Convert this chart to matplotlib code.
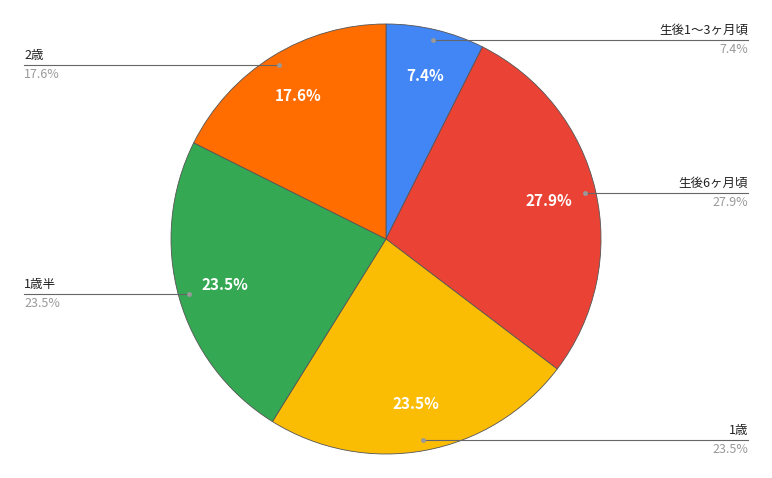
import numpy as np
import matplotlib
matplotlib.use("Agg")
import matplotlib.pyplot as plt
plt.rcParams['font.family'] = ['Noto Sans CJK JP', 'DejaVu Sans']

labels = ['生後1〜3ヶ月頃', '生後6ヶ月頃', '1歳', '1歳半', '2歳']
values = [7.4, 27.9, 23.5, 23.5, 17.6]
colors = ['#4285f4', '#ea4335', '#fbbc04', '#34a853', '#ff6d01']

W, H = 772, 478
fig = plt.figure(figsize=(W/100, H/100), dpi=100)
ax = fig.add_axes([0, 0, 1, 1])
ax.set_xlim(0, W); ax.set_ylim(0, H); ax.set_aspect('equal'); ax.axis('off')
cx, cy, R = 386, H - 239, 215
wedges, _, autot = ax.pie(values, colors=colors, startangle=90, counterclock=False,
    center=(cx, cy), radius=R, autopct='%1.1f%%', pctdistance=0.78,
    wedgeprops=dict(edgecolor='#555555', linewidth=0.6),
    textprops=dict(color='white', fontsize=11, fontweight='bold'))
ax.set_xlim(0, W); ax.set_ylim(0, H); ax.set_aspect('equal')
for w, lab, v in zip(wedges, labels, values):
    a = np.deg2rad((w.theta1 + w.theta2) / 2)
    dx, dy = cx + 0.95*R*np.cos(a), cy + 0.95*R*np.sin(a)
    right = np.cos(a) > 0
    lx = 748 if right else 24
    ax.plot([dx, lx], [dy, dy], color='#666666', lw=0.8)
    ax.plot(dx, dy, 'o', color='#999999', ms=2.5)
    ha = 'right' if right else 'left'
    ax.text(lx, dy + 3, lab, ha=ha, va='bottom', fontsize=9, color='#222222')
    ax.text(lx, dy - 3, f'{v:.1f}%', ha=ha, va='top', fontsize=9, color='#999999')
fig.savefig('out.png', dpi=100)
